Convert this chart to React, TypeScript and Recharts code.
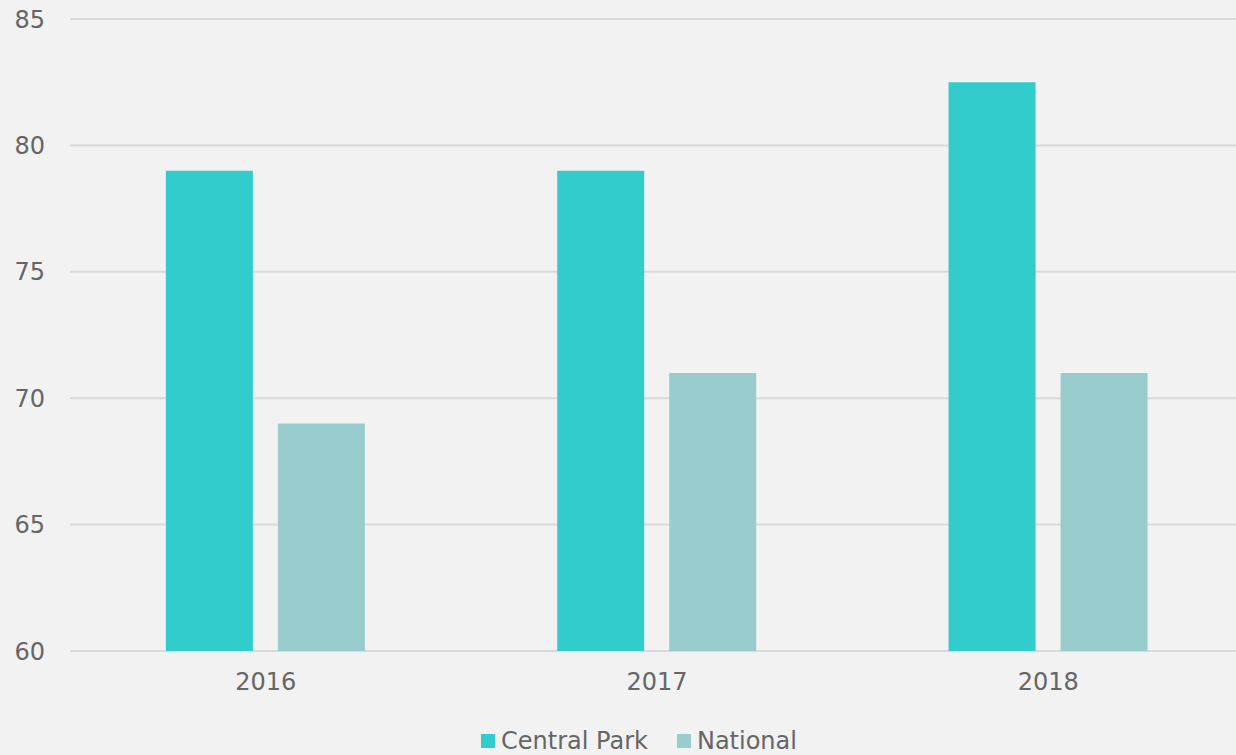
import React from "react";
import { BarChart, Bar, XAxis, YAxis, CartesianGrid, Legend } from "recharts";

const years = ["2016", "2017", "2018"];
const centralPark = [79, 79, 82.5];
const national = [69, 71, 71];
const yTicks = [60, 65, 70, 75, 80, 85];

const data = years.map((year, i) => ({
  year,
  centralPark: centralPark[i],
  national: national[i]
}));

const FONT = "'DejaVu Sans', Verdana, sans-serif";
const TEXT = "#666666";

// Legend drawn as plain squares + labels
const LegendContent = ({ payload }: any) => (
  <div
    style={{
      display: "flex",
      justifyContent: "center",
      alignItems: "center",
      height: 28,
      paddingLeft: 34,
      fontFamily: FONT,
      fontSize: 24,
      color: TEXT
    }}
  >
    {(payload || []).map((entry: any, i: number) => (
      <div key={i} style={{ display: "flex", alignItems: "center", marginRight: i === 0 ? 29 : 0 }}>
        <span
          style={{
            display: "inline-block",
            width: 14,
            height: 14,
            background: entry.color,
            marginRight: 6
          }}
        />
        <span>{entry.value}</span>
      </div>
    ))}
  </div>
);

export default function App() {
  return (
    <div
      style={{
        position: "fixed",
        top: 0,
        left: 0,
        width: 1236,
        height: 755,
        overflow: "hidden",
        background: "#f2f2f2"
      }}
    >
      <BarChart
        width={1276}
        height={755}
        data={data}
        margin={{ top: 19, right: 32, left: 0, bottom: 0 }}
        barCategoryGap="24.5%"
        barGap={25}
      >
        <CartesianGrid vertical={false} stroke="#d9d9d9" strokeWidth={2} />
        <XAxis
          dataKey="year"
          axisLine={false}
          tickLine={false}
          tickSize={0}
          tickMargin={22}
          height={76}
          tick={{ fill: TEXT, fontSize: 24, fontFamily: FONT }}
        />
        <YAxis
          domain={[60, 85]}
          ticks={yTicks}
          width={70}
          axisLine={false}
          tickLine={false}
          tickSize={0}
          tickMargin={25}
          tick={{ fill: TEXT, fontSize: 24, fontFamily: FONT }}
        />
        <Legend verticalAlign="bottom" content={<LegendContent />} />
        <Bar dataKey="centralPark" name="Central Park" fill="#33cccc" isAnimationActive={false} />
        <Bar dataKey="national" name="National" fill="#99cccc" isAnimationActive={false} />
      </BarChart>
    </div>
  );
}
